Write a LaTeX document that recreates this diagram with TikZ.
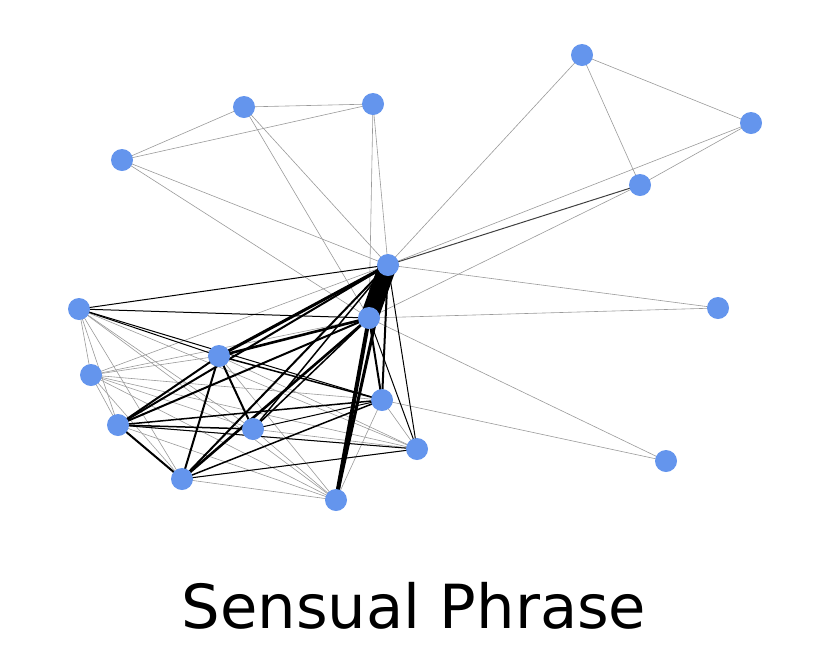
\documentclass[tikz,border=0pt]{standalone}
\usepackage{fontspec}
\setmainfont{DejaVu Sans}
\usetikzlibrary{backgrounds}
\definecolor{nodeblue}{HTML}{6495ED}
\definecolor{thingray}{HTML}{9A9A9A}
\tikzset{
  vtx/.style={circle,fill=nodeblue,draw=none,minimum size=22pt,inner sep=0pt},
  thin edge/.style={draw=thingray,line width=0.6pt},
  mid edge/.style={draw=black,line width=1pt},
  heavy edge/.style={draw=black,line width=2pt},
  title/.style={font=\fontsize{60.8}{72}\selectfont,anchor=base}
}
\begin{document}
\begin{tikzpicture}[x=1pt,y=-1pt]
\useasboundingbox (0,0) rectangle (830,649);
\node[vtx] (A) at (582,55) {};
\node[vtx] (B) at (751,123) {};
\node[vtx] (C) at (640,185) {};
\node[vtx] (D) at (244,107) {};
\node[vtx] (E) at (373,104) {};
\node[vtx] (F) at (122,160) {};
\node[vtx] (G) at (388,265) {};
\node[vtx] (H) at (369,318) {};
\node[vtx] (I) at (79,309) {};
\node[vtx] (J) at (718,308) {};
\node[vtx] (K) at (219,356) {};
\node[vtx] (L) at (91,375) {};
\node[vtx] (M) at (382,400) {};
\node[vtx] (N) at (118,425) {};
\node[vtx] (O) at (253,429) {};
\node[vtx] (P) at (417,449) {};
\node[vtx] (Q) at (666,461) {};
\node[vtx] (R) at (182,479) {};
\node[vtx] (S) at (336,500) {};
\node[title] (T) at (414,628) {Sensual Phrase};
\begin{pgfonlayer}{background}
% thin grey edges
\foreach \a/\b in {A/B,A/C,A/G,B/C,B/G,C/H,G/J,H/J,H/Q,M/Q,D/E,D/F,E/F,F/G,F/H,D/G,D/H,E/G,E/H,
  I/L,I/N,I/R,I/O,I/S,L/K,L/H,L/G,L/M,L/O,L/P,L/N,L/R,L/S,K/P,K/S,N/P,N/S,R/P,R/S,O/S,O/P,M/S,M/P,I/P}
  \draw[thin edge] (\a.center) -- (\b.center);
% medium edges
\draw[draw=black!75,line width=1pt] (C.center) -- (G.center);
\foreach \a/\b in {I/G,I/H,I/K,I/M,G/P,H/P,O/M,R/P,N/P}
  \draw[mid edge] (\a.center) -- (\b.center);
\foreach \a/\b in {R/M,N/M,N/O,O/G,O/H,K/M}
  \draw[mid edge,line width=1.5pt] (\a.center) -- (\b.center);
% heavy edges
\foreach \a/\b in {G/M,H/M,G/R,K/R,K/O,N/K,N/G,N/H,N/R}
  \draw[heavy edge] (\a.center) -- (\b.center);
\draw[heavy edge,line width=2.6pt] (H.center) -- (R.center);
\draw[heavy edge,line width=3pt] (G.center) -- (K.center);
\draw[heavy edge,line width=2.6pt] (H.center) -- (K.center);
\draw[heavy edge,line width=3pt] (G.center) -- (S.center);
\draw[heavy edge,line width=4pt] (H.center) -- (S.center);
\draw[heavy edge,line width=18pt] (G.center) -- (H.center);
\end{pgfonlayer}
\end{tikzpicture}
\end{document}
